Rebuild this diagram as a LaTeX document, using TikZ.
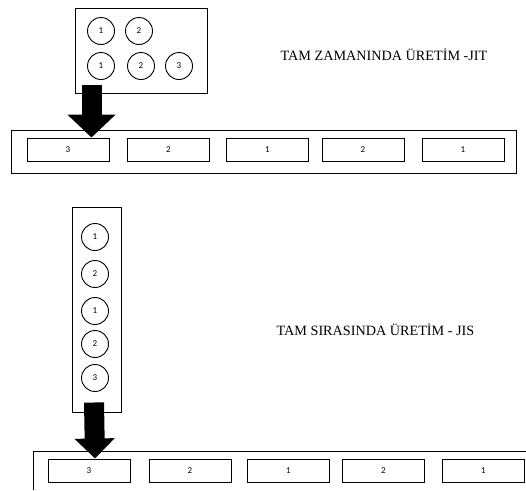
\documentclass[tikz,border=0pt]{standalone}
\usepackage{fontspec}
\setmainfont{Liberation Serif}
\newfontfamily\numfont{Carlito}
\usetikzlibrary{arrows.meta,calc}
\tikzset{
  pile/.style={draw,line width=1pt,inner sep=0pt},
  part/.style={draw,circle,line width=0.9pt,minimum size=27pt,inner sep=0pt,
    font=\numfont\fontsize{9}{9}\selectfont},
  slot/.style={draw,line width=1pt,minimum width=82pt,minimum height=23pt,
    inner sep=0pt,font=\numfont\fontsize{9}{9}\selectfont},
  bigarrow/.style={line width=20pt},
  heading/.style={font=\fontsize{14.2}{16}\selectfont,inner sep=0pt}
}
\begin{document}
\begin{tikzpicture}[x=1pt,y=-1pt]
  \useasboundingbox (0,0) rectangle (526,490);
  % just in time
  \node[pile,minimum width=132pt,minimum height=85pt] (jitpile) at (141,50.5) {};
  \foreach \t/\x/\y [count=\i] in {1/101/31,2/139/31,1/101/66,2/141/66,3/179/66}
    \node[part] (jitpart\i) at (\x,\y) {\t};
  \node[pile,minimum width=505pt,minimum height=43pt] (jitline) at (263.5,151.5) {};
  \foreach \t/\x [count=\i] in {3/68,2/168.5,1/267.5,2/363,1/463}
    \node[slot] (jitslot\i) at (\x,149.5) {\t};
  \draw[bigarrow,-{Triangle[width=47pt,length=23pt]}]
    ($(jitpile.south west)+(17,-9)$) -- ($(jitpile.south west |- jitslot1.north)+(17,0)$);
  \node[heading] (jittitle) at (384,55) {TAM ZAMANINDA ÜRETİM -JIT};
  % just in sequence
  \node[pile,minimum width=49pt,minimum height=205pt] (jispile) at (96.5,309.5) {};
  \foreach \t/\y [count=\i] in {1/237,2/274,1/311,2/344,3/378}
    \node[part] (jispart\i) at (95,\y) {\t};
  \draw[line width=1pt] (526,451.5) -- (33,451.5) -- (33,490);
  \foreach \t/\x [count=\i] in {3/89,2/190,1/288.5,2/383.5,1/483.5}
    \node[slot] (jisslot\i) at (\x,470.5) {\t};
  \draw[bigarrow,-{Triangle[width=39pt,length=20pt]}]
    ($(jispile.south)+(-2.5,-10)$) -- ($(jispile.south |- jisslot1.north)+(-1.5,0)$);
  \node[heading] (jistitle) at (375.5,330) {TAM SIRASINDA ÜRETİM - JIS};
\end{tikzpicture}
\end{document}
